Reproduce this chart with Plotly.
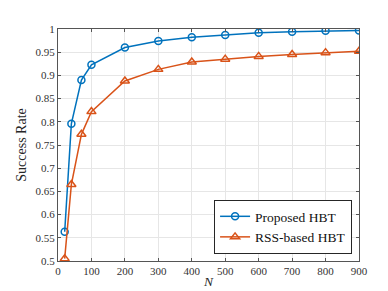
import plotly.graph_objects as go

N = [20, 40, 70, 100, 200, 300, 400, 500, 600, 700, 800, 900]
proposed = [0.563, 0.796, 0.890, 0.923, 0.960, 0.974, 0.982, 0.987, 0.992, 0.994, 0.996, 0.997]
rss = [0.505, 0.665, 0.773, 0.822, 0.888, 0.913, 0.929, 0.935, 0.941, 0.945, 0.949, 0.952]

xticks = [0, 100, 200, 300, 400, 500, 600, 700, 800, 900]
yticks = [0.5, 0.55, 0.6, 0.65, 0.7, 0.75, 0.8, 0.85, 0.9, 0.95, 1.0]
ytext = ["0.5", "0.55", "0.6", "0.65", "0.7", "0.75", "0.8", "0.85", "0.9", "0.95", "1"]

font = "Liberation Serif, Times New Roman, serif"

fig = go.Figure()
fig.add_trace(go.Scatter(x=N, y=proposed, mode="lines+markers", name="Proposed HBT",
                         line=dict(color="#0072BD", width=1.5),
                         marker=dict(symbol="circle-open", size=7, color="#0072BD", line=dict(width=1.5))))
fig.add_trace(go.Scatter(x=N, y=rss, mode="lines+markers", name="RSS-based HBT",
                         line=dict(color="#D95319", width=1.5),
                         marker=dict(symbol="triangle-up-open", size=8, color="#D95319", line=dict(width=1.5))))

axis_common = dict(showline=True, linecolor="#555555", linewidth=1, mirror="ticks",
                   ticks="inside", ticklen=3, tickcolor="#555555",
                   showgrid=True, gridcolor="#e6e6e6", gridwidth=1, zeroline=False,
                   tickfont=dict(family=font, size=11, color="#333333"))

fig.update_layout(
    width=388, height=291,
    margin=dict(l=50, r=37, t=21, b=34),
    paper_bgcolor="white", plot_bgcolor="white",
    font=dict(family=font, color="#262626"),
    xaxis=dict(range=[0, 900], tickvals=xticks, automargin=True,
               title=dict(text="<i>N</i>", font=dict(family=font, size=13.5, color="#262626"), standoff=0),
               **axis_common),
    yaxis=dict(range=[0.5, 1.0], tickvals=yticks, ticktext=ytext, automargin=False,
               title=dict(text="Success Rate", font=dict(family=font, size=14, color="#262626"), standoff=5),
               **axis_common),
    legend=dict(x=0.977, y=0.03, xanchor="right", yanchor="bottom",
                bordercolor="#262626", borderwidth=1, bgcolor="white",
                font=dict(family=font, size=13.5, color="#111111"),
                tracegroupgap=0, itemwidth=30),
    showlegend=True,
)

fig.write_html("out.html")
